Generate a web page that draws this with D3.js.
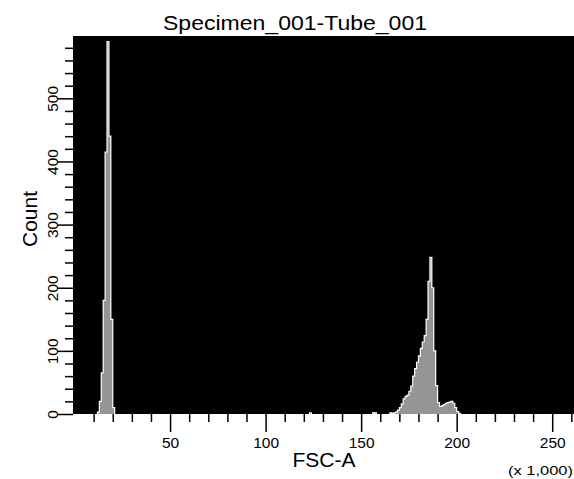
<!DOCTYPE html>
<html>
<head>
<meta charset="utf-8">
<script src="https://cdn.jsdelivr.net/npm/d3@7"></script>
<style>
  body { margin: 0; background: #fff; }
  svg { display: block; }
  text { font-family: "Liberation Sans", Arial, sans-serif; fill: #000; }
</style>
</head>
<body>
<svg id="chart" width="574" height="479"></svg>
<script>
// FSC-A histogram, bins of 1,000 (values in thousands)
var leftPeakStart = 12;
var leftPeakCounts = [3, 20, 65, 180, 415, 590, 440, 150, 10];

var rightPeakStart = 165;
var rightPeakCounts = [2, 1, 2, 3, 6, 10, 16, 24, 28, 30, 36, 44, 60, 72, 82, 92, 104, 114,
  124, 150, 210, 248, 200, 100, 45, 18, 12, 13, 15, 17, 18, 19, 20, 17, 10, 4, 1];

// stray single events
var strayBins = [123, 156, 157];
var strayCounts = [2, 2, 2];

var yTicks = d3.range(0, 600, 20);
var xTicks = d3.range(10, 270, 10);

var title = 'Specimen_001-Tube_001';
var xLabel = 'FSC-A';
var yLabel = 'Count';
var xUnit = '(x 1,000)';

(function () {
  'use strict';

  var svg = d3.select('#chart');
  var plot = {left: 73, top: 36, right: 574, bottom: 414};

  var x = d3.scaleLinear().domain([-0.8, 261.4]).range([plot.left, plot.right]);
  var y = d3.scaleLinear().domain([0, 598.7]).range([plot.bottom, plot.top]);

  svg.append('defs').append('clipPath').attr('id', 'clip')
    .append('rect')
    .attr('x', plot.left).attr('y', plot.top)
    .attr('width', plot.right - plot.left).attr('height', plot.bottom - plot.top);

  svg.append('rect')
    .attr('x', plot.left).attr('y', plot.top)
    .attr('width', plot.right - plot.left).attr('height', plot.bottom - plot.top)
    .attr('fill', '#000');

  function toSeries(start, counts) {
    var pts = counts.map(function (c, i) { return {x: start + i, c: c}; });
    pts.unshift({x: start, c: 0});
    pts.push({x: start + counts.length, c: 0});
    return pts;
  }

  var series = [
    toSeries(leftPeakStart, leftPeakCounts),
    toSeries(rightPeakStart, rightPeakCounts)
  ];
  strayBins.forEach(function (b, i) { series.push(toSeries(b, [strayCounts[i]])); });

  var area = d3.area()
    .curve(d3.curveStepAfter)
    .x(function (d) { return x(d.x); })
    .y0(y(0))
    .y1(function (d) { return y(d.c); });

  var line = d3.line()
    .curve(d3.curveStepAfter)
    .x(function (d) { return x(d.x); })
    .y(function (d) { return y(d.c); });

  var hist = svg.append('g').attr('clip-path', 'url(#clip)');

  hist.selectAll('path.fill').data(series).enter().append('path')
    .attr('class', 'fill')
    .attr('d', area)
    .attr('fill', '#959595');

  hist.selectAll('path.edge').data(series).enter().append('path')
    .attr('class', 'edge')
    .attr('d', line)
    .attr('fill', 'none')
    .attr('stroke', '#fff')
    .attr('stroke-width', 1.2);

  // y axis: minor ticks every 20, major every 100
  var yMinor = svg.append('g')
    .attr('transform', 'translate(' + plot.left + ',0)')
    .call(d3.axisLeft(y).tickValues(yTicks.filter(function (v) { return v % 100; }))
      .tickSize(8).tickFormat(''));

  var yMajor = svg.append('g')
    .attr('transform', 'translate(' + plot.left + ',0)')
    .call(d3.axisLeft(y).tickValues(yTicks.filter(function (v) { return v % 100 === 0; }))
      .tickSize(16));

  yMajor.selectAll('.tick text')
    .attr('x', null).attr('dy', null)
    .attr('transform', 'translate(-15,0) rotate(-90)')
    .attr('text-anchor', 'middle')
    .style('font-size', '15.5px');

  // x axis: minor ticks every 10, major every 50
  var xMinor = svg.append('g')
    .attr('transform', 'translate(0,' + plot.bottom + ')')
    .call(d3.axisBottom(x).tickValues(xTicks.filter(function (v) { return v % 50; }))
      .tickSize(8).tickFormat(''));

  var xMajor = svg.append('g')
    .attr('transform', 'translate(0,' + plot.bottom + ')')
    .call(d3.axisBottom(x).tickValues(xTicks.filter(function (v) { return v % 50 === 0; }))
      .tickSize(18));

  xMajor.selectAll('.tick text')
    .attr('y', 23)
    .style('font-size', '15.5px');

  [yMinor, yMajor, xMinor, xMajor].forEach(function (g) {
    g.select('.domain').remove();
    g.selectAll('.tick line').attr('stroke', '#000').attr('stroke-width', 1.5);
    g.attr('font-family', null).attr('font-size', null);
  });

  svg.append('text')
    .attr('x', 295).attr('y', 30)
    .attr('text-anchor', 'middle')
    .attr('textLength', 264).attr('lengthAdjust', 'spacingAndGlyphs')
    .style('font-size', '20px')
    .text(title);

  svg.append('text')
    .attr('x', 324).attr('y', 467)
    .attr('text-anchor', 'middle')
    .style('font-size', '21px')
    .text(xLabel);

  svg.append('text')
    .attr('transform', 'translate(37,219) rotate(-90)')
    .attr('text-anchor', 'middle')
    .style('font-size', '21px')
    .text(yLabel);

  svg.append('text')
    .attr('x', 573).attr('y', 475)
    .attr('text-anchor', 'end')
    .attr('textLength', 65).attr('lengthAdjust', 'spacingAndGlyphs')
    .style('font-size', '13px')
    .text(xUnit);
}());
</script>
</body>
</html>
